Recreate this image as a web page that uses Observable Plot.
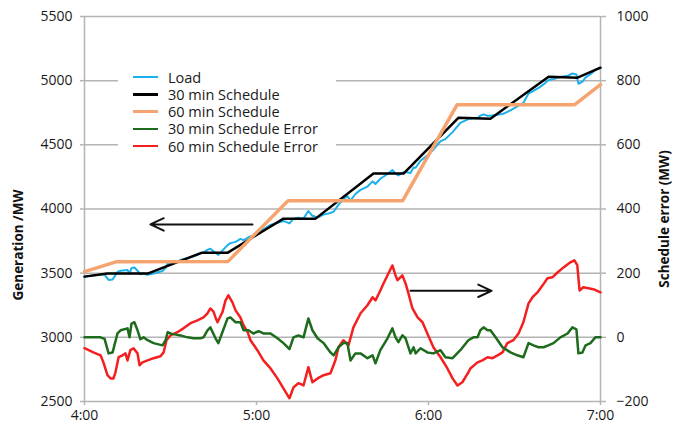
<!DOCTYPE html>
<html><head><meta charset="utf-8">
<script src="https://cdn.jsdelivr.net/npm/d3@7"></script>
<script src="https://cdn.jsdelivr.net/npm/@observablehq/plot@0.6"></script>
<style>
body{margin:0;background:#fff}
#chart{position:relative;width:674px;height:427px;font-family:"Open Sans",sans-serif}
#legend{position:absolute;left:118px;top:64px;width:218px;height:92px;background:#fff;font-size:14.5px;color:#1a1a1a}
.row{position:absolute;left:15px;height:17px;display:flex;align-items:center}
.sw{width:25px;margin-right:10px}
</style>
</head><body><div id="chart"><div id="legend"></div></div>
<script>
const seriesNames = ["Load","30 min Schedule","60 min Schedule","30 min Schedule Error","60 min Schedule Error"];
const seriesColors = ["#1cb0ec","#000000","#f5a46f","#1d6b1d","#f42020"];
const seriesWidths = [2,2.5,3.5,2.5,2.5];
const yTitleLeft = "Generation /MW";
const yTitleRight = "Schedule error (MW)";

// x values: minutes after 4:00
const xTicks = [0,60,120,180];
const xTickLabels = ["4:00","5:00","6:00","7:00"];
const genTicks = [2500,3000,3500,4000,4500,5000,5500];
const errTicks = [-200,0,200,400,600,800,1000];

const loadMin = [0,5.6,7.0,8.4,9.8,11.5,12.6,15.0,15.7,16.4,17.4,18.5,19.5,20.6,22.0,24.1,27.2,28.3,29.0,31.0,33.5,35.9,38.0,40.5,41.5,42.9,43.9,45.7,46.7,48.1,49.9,50.9,52.7,54.4,55.5,57.2,58.9,60.7,62.4,64.9,67.3,69.4,71.5,72.9,74.6,76.4,78.1,79.5,81.3,83.4,85.8,86.9,88.6,90.3,91.7,92.8,94.5,96.3,98.7,100.5,101.5,103.2,105.7,107.4,108.5,109.5,110.9,112.0,113.7,114.8,115.5,117.2,119.6,121.7,124.2,125.9,128.4,131.1,133.9,135.7,137.1,138.1,139.2,140.6,141.6,143.4,145.8,148.6,151.0,153.1,154.9,156.6,158.4,160.1,161.8,163.6,166.0,168.5,170.2,171.6,172.3,173.7,174.8,176.5,178.2,180];
const loadMW = [3473,3490,3489,3447,3450,3509,3519,3525,3497,3540,3544,3519,3491,3497,3488,3497,3517,3542,3573,3584,3602,3617,3632,3653,3660,3682,3691,3657,3642,3676,3719,3734,3744,3767,3757,3780,3794,3825,3842,3876,3893,3907,3888,3925,3931,3925,3984,3947,3934,3956,3969,3979,4034,4076,4101,4066,4117,4149,4175,4215,4195,4236,4273,4304,4276,4261,4282,4289,4280,4324,4321,4376,4417,4462,4529,4545,4599,4671,4701,4708,4707,4728,4737,4727,4726,4733,4740,4769,4799,4827,4900,4920,4943,4971,5004,5012,5028,5038,5056,5048,4976,4993,5026,5050,5084,5101];

const sched30Min = [0,8,22,41,50,69.4,80.6,100.8,111.3,130.5,141.6,161.9,172,180];
const sched30MW = [3473,3497,3497,3660,3660,3925,3925,4276,4276,4712,4704,5031,5023,5101];

const sched60Min = [0,11,50,71,111,130,171,180];
const sched60MW = [3512,3588,3590,4065,4065,4813,4813,4969];

const err30Min = [0,5.6,7.0,8.4,9.8,11.5,12.6,15.0,15.7,16.4,17.4,18.5,19.5,20.6,22.0,24.1,27.2,28.3,29.0,30.0,31.0,33.5,35.9,38.0,40.5,41.5,42.9,43.9,45.7,46.7,48.1,49.9,50.9,52.7,54.4,55.5,57.2,58.9,60.7,62.4,64.9,67.3,69.4,71.5,72.9,74.6,76.4,78.1,79.5,81.3,83.4,85.8,86.9,88.6,90.3,91.7,92.8,94.5,96.3,98.7,100.5,101.5,103.2,105.7,107.4,108.5,109.5,110.9,112.0,113.7,114.8,115.5,117.2,119.6,121.7,124.2,125.9,128.4,131.1,133.9,135.7,137.1,138.1,139.2,140.6,141.6,143.4,145.8,148.6,151.0,153.1,154.9,156.6,158.4,160.1,161.8,163.6,166.0,168.5,170.2,171.6,172.3,173.7,174.8,176.5,178.2,180];
const err30MW = [0,0,-5,-50,-47,12,22,28,0,43,47,22,-6,0,-9,-18,-25,-9,16,12,10,6,0,-3,-3,0,22,31,-3,-18,16,59,62,47,47,22,22,12,19,12,12,-3,-18,-37,0,6,0,59,22,-3,-18,-47,-56,-31,-18,-18,-72,-50,-50,-65,-56,-81,-40,-3,28,0,-15,6,-3,-50,-31,-50,-34,-47,-50,-40,-62,-65,-40,-9,0,0,22,31,22,22,0,-31,-47,-56,-62,-18,-25,-31,-31,-25,-18,0,12,31,25,-50,-47,-25,-18,0,0];

const err60Min = [0,3.1,5.6,6.6,8.0,9.1,10.1,10.8,11.9,13.3,14.3,15.0,16.0,17.1,18.5,19.2,20.2,22.0,24.1,26.5,27.6,28.6,30.0,32.4,34.5,37.0,39.4,41.5,42.9,43.9,45.0,45.7,46.4,48.1,49.2,50.2,51.6,52.7,54.4,55.5,56.9,57.9,60.3,62.4,64.9,67.3,69.4,71.5,72.9,74.6,76.4,78.1,79.5,81.3,83.4,85.8,87.5,88.6,90.3,92.1,93.8,96.3,98.7,100.5,101.5,103.2,104.3,106.0,107.4,108.5,109.2,110.9,112.0,113.0,114.4,116.2,117.9,119.6,121.7,124.2,126.6,128.4,130.1,131.8,133.9,134.6,137.1,138.8,140.6,142.3,144.1,145.8,147.5,149.6,151.4,153.1,154.9,156.3,158.0,159.8,161.5,163.2,165.0,167.1,169.5,170.9,171.9,172.7,174.0,175.8,177.5,180];
const err60MW = [-34,-47,-56,-78,-118,-128,-128,-109,-62,-56,-50,-72,-40,-34,-50,-87,-78,-72,-65,-59,-47,-9,6,16,28,44,53,62,75,90,80,62,47,78,115,131,109,84,62,37,16,-9,-40,-72,-97,-128,-159,-190,-156,-143,-150,-93,-140,-128,-118,-112,-72,-31,-9,-25,31,75,100,125,115,146,168,199,224,193,178,193,168,137,90,62,47,12,-31,-62,-97,-128,-150,-140,-109,-97,-78,-72,-62,-65,-56,-47,-18,-9,12,47,106,125,140,162,184,187,202,218,234,240,225,146,156,153,150,140];

// annotation arrows (generation axis / error axis)
const arrowGen = {fromMin: 58.6, toMin: 23, mw: 3880};
const arrowErr = {fromMin: 113.7, toMin: 142, mw: 145};

const errToGen = d3.scaleLinear().domain([-200,1000]).range([2500,5500]);
const pts = (xs, ys) => xs.map((x,i) => ({x, y: ys[i]}));
const load = pts(loadMin, loadMW);
const s30 = pts(sched30Min, sched30MW);
const s60 = pts(sched60Min, sched60MW);
const e30 = pts(err30Min, err30MW).map(d => ({x:d.x, y: errToGen(d.y)}));
const e60 = pts(err60Min, err60MW).map(d => ({x:d.x, y: errToGen(d.y)}));
const arrows = [
  {x1: arrowGen.fromMin, x2: arrowGen.toMin, y: arrowGen.mw},
  {x1: arrowErr.fromMin, x2: arrowErr.toMin, y: errToGen(arrowErr.mw)}
];
const grey = "#b4b4b4";
const line = (data, i) => Plot.line(data, {x:"x", y:"y", stroke: seriesColors[i], strokeWidth: seriesWidths[i], strokeLinejoin:"round"});

const chart = Plot.plot({
  width: 674, height: 427,
  marginLeft: 84, marginRight: 74, marginTop: 16, marginBottom: 26,
  style: {fontFamily: "'Open Sans', sans-serif", fontSize: "14px", color: "#1a1a1a", background: "#fff"},
  x: {domain: [0,180]},
  y: {domain: [2500,5500]},
  marks: [
    Plot.gridY(genTicks, {stroke: grey, strokeOpacity: 1, strokeWidth: 1.5}),
    Plot.ruleX([0,180], {stroke: grey, strokeWidth: 1.5}),
    Plot.axisY(genTicks, {anchor:"left", tickSize: 4, tickPadding: 8, stroke: grey, strokeWidth: 1.5, tickFormat: d => String(d), label: null}),
    Plot.axisY(errTicks.map(errToGen), {anchor:"right", tickSize: 5, tickPadding: 11, stroke: grey, strokeWidth: 1.5,
      tickFormat: d => { const v = Math.round(errToGen.invert(d)); return v < 0 ? "\u2212" + Math.abs(v) : String(v); },
      label: null}),
    Plot.axisX(xTicks, {tickSize: 4, tickPadding: 5, stroke: grey, strokeWidth: 1.5, tickFormat: d => xTickLabels[xTicks.indexOf(d)], label: null}),
    line(e60, 4),
    line(e30, 3),
    line(load, 0),
    line(s30, 1),
    line(s60, 2),
    Plot.arrow(arrows, {x1:"x1", x2:"x2", y1:"y", y2:"y", stroke:"#111", strokeWidth: 2, headLength: 11, headAngle: 50}),
  ]
});
const host = document.getElementById("chart");
host.insertBefore(chart, host.firstChild);

// rotated axis titles
const svg = d3.select(chart);
[[yTitleLeft, 18, 245], [yTitleRight, 664, 219]].forEach(([txt, x, y]) => {
  svg.append("text")
    .attr("transform", `translate(${x},${y}) rotate(-90)`)
    .attr("text-anchor", "middle").attr("dy", "0.35em")
    .attr("font-weight", "bold").attr("font-size", 13.5).attr("fill", "#111")
    .text(txt);
});

const legend = document.getElementById("legend");
seriesNames.forEach((name, i) => {
  const row = document.createElement("div");
  row.className = "row";
  row.style.top = (4.5 + i * 17.3) + "px";
  const sw = document.createElement("div");
  sw.className = "sw";
  sw.style.height = Math.min(seriesWidths[i], 3) + "px";
  sw.style.background = seriesColors[i];
  const t = document.createElement("span");
  t.textContent = name;
  row.appendChild(sw); row.appendChild(t);
  legend.appendChild(row);
});
</script>
</body></html>
